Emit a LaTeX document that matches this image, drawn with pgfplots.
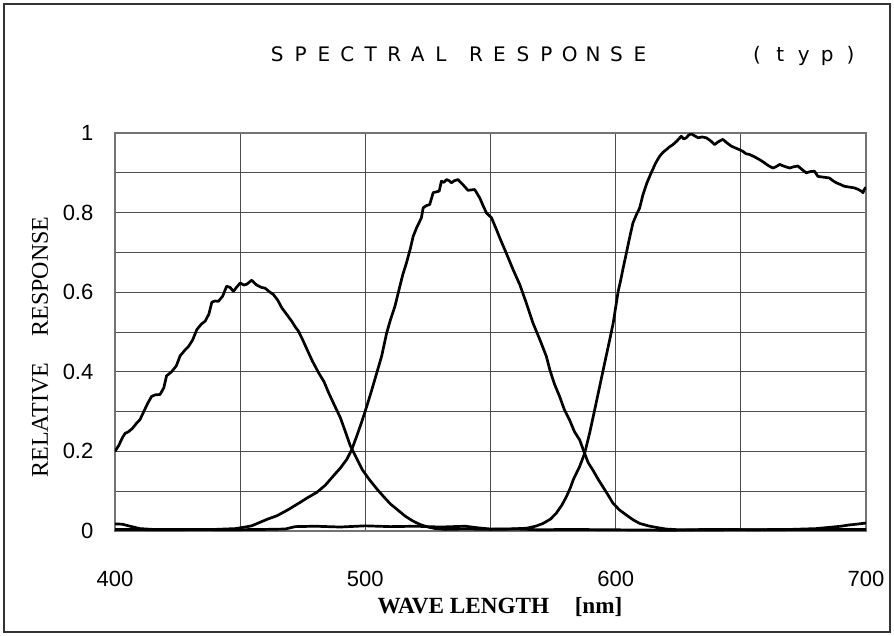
\documentclass[border=0pt]{standalone}
\usepackage{pgfplots}
\pgfplotsset{compat=1.18}
\usepackage{fontspec}
\setmainfont{Liberation Serif}
\newfontfamily\arial{Liberation Sans}
\newfontfamily\titlefont{DejaVu Sans}
\newcommand\G[1]{\makebox[5.85pt][c]{#1}}
\newcommand\Sp{\hspace*{5.85pt}}
\begin{document}
\begin{tikzpicture}
\useasboundingbox (0,0) rectangle (447pt,-318pt);
\draw[line width=0.65pt, black!80] (2pt,-2pt) rectangle (445pt,-316pt);
\node[font=\titlefont\fontsize{10}{12}\selectfont, anchor=west, inner sep=0pt] at (135.5pt,-28pt)
 {\G{S}\Sp\G{P}\Sp\G{E}\Sp\G{C}\Sp\G{T}\Sp\G{R}\Sp\G{A}\Sp\G{L}\Sp\Sp\G{R}\Sp\G{E}\Sp\G{S}\Sp\G{P}\Sp\G{O}\Sp\G{N}\Sp\G{S}\Sp\G{E}\Sp\Sp\Sp\Sp\Sp\Sp\Sp\Sp\Sp\G{(}\Sp\G{t}\Sp\G{y}\Sp\G{p}\Sp\G{)}};
\node[font=\fontsize{12}{14}\selectfont, rotate=90] at (20pt,-173.5pt) {RELATIVE\hspace{1.1em}RESPONSE};
\node[font=\bfseries\fontsize{11.6}{13}\selectfont] at (250pt,-303.5pt) {WAVE LENGTH\hspace{1.1em}[nm]};
\begin{axis}[
 at={(57.5pt,-265.5pt)}, anchor=south west,
 scale only axis, width=375.5pt, height=199pt,
 xmin=400, xmax=700, ymin=0, ymax=1,
 xtick={400,500,600,700}, minor xtick={450,550,650},
 ytick={0,0.2,0.4,0.6,0.8,1}, minor ytick={0.1,0.3,0.5,0.7,0.9},
 yticklabels={0,0.2,0.4,0.6,0.8,1},
 xticklabels={400,500,600,700},
 grid=both,
 major grid style={black!70, line width=0.5pt},
 minor grid style={black!70, line width=0.5pt},
 axis line style={black!55, line width=0.6pt},
 major tick length=0pt, minor tick length=0pt,
 tick label style={font=\arial\fontsize{11}{13}\selectfont},
 yticklabel style={xshift=-7.3pt},
 xticklabel style={yshift=-16.5pt},
]
% blue
\addplot[black, line width=1.35pt, line join=round] coordinates {
(400,0.200)(401.5,0.215)(403,0.235)(404,0.245)(405.5,0.25)(407,0.258)(408.5,0.27)(410,0.28)(411.5,0.30)(413,0.32)(414.6,0.338)(416,0.342)(418,0.343)(419.5,0.36)(420.6,0.39)(422.6,0.40)(424.5,0.415)(426,0.44)(428,0.455)(429.4,0.464)(431,0.48)(432.7,0.506)(434.5,0.52)(436,0.527)(437.5,0.545)(438.7,0.575)(440,0.578)(441.3,0.577)(443,0.59)(444.6,0.615)(446,0.612)(447.3,0.602)(448.5,0.612)(450,0.623)(451.5,0.618)(452.6,0.62)(454.6,0.63)(456.6,0.618)(458.5,0.612)(460,0.61)(461.5,0.602)(463.3,0.594)(465,0.58)(466.7,0.56)(468.5,0.545)(470.6,0.527)(472,0.513)(473.3,0.502)(475,0.48)(477.3,0.448)(479,0.425)(481.3,0.398)(483.5,0.375)(485.3,0.348)(487.5,0.318)(490,0.285)(492,0.25)(494,0.214)(496.5,0.183)(498.7,0.155)(501.5,0.13)(504.7,0.105)(507.5,0.085)(510,0.068)(513.3,0.051)(516,0.037)(519,0.025)(522,0.016)(525,0.010)(528,0.006)(532,0.004)(540,0.005)(550,0.004)(560,0.005)(570,0.003)(580,0.004)(600,0.003)(620,0.002)(650,0.003)(670,0.004)(680,0.006)(685,0.009)(690,0.012)(693,0.015)(696,0.017)(700,0.02)
};
% green
\addplot[black, line width=1.35pt, line join=round] coordinates {
(400,0.004)(420,0.003)(440,0.004)(448,0.006)(452,0.010)(454.6,0.013)(458,0.022)(461,0.03)(464.6,0.038)(469,0.053)(474,0.072)(477,0.084)(480.6,0.097)(484,0.115)(487.3,0.139)(490,0.158)(492.6,0.18)(494.6,0.205)(496.6,0.239)(498.6,0.275)(500.6,0.314)(502.6,0.355)(504.6,0.398)(506.5,0.439)(508.5,0.497)(510,0.53)(511.8,0.564)(513.8,0.615)(515,0.645)(516.4,0.673)(518,0.71)(519.1,0.74)(520.5,0.762)(522.4,0.787)(523.1,0.812)(524.5,0.818)(525.7,0.82)(527.1,0.85)(529.5,0.854)(530.4,0.879)(531.4,0.876)(532.4,0.883)(533.5,0.88)(534.4,0.875)(535.5,0.88)(537,0.883)(539,0.87)(541,0.856)(543.7,0.858)(545.7,0.837)(547,0.818)(548.4,0.799)(550.4,0.787)(552.4,0.757)(554,0.732)(555.7,0.707)(557.5,0.68)(559,0.657)(561.7,0.619)(564.3,0.573)(567,0.522)(569.7,0.481)(572.3,0.439)(573.7,0.405)(575.5,0.37)(577.6,0.338)(579.5,0.305)(581.6,0.279)(583.5,0.25)(585.6,0.229)(587.6,0.195)(589,0.172)(590.9,0.153)(593,0.13)(594.9,0.111)(597,0.09)(598.9,0.07)(601.5,0.053)(604.3,0.04)(607,0.028)(609.6,0.019)(613,0.013)(616.2,0.009)(620,0.005)(625.5,0.003)(640,0.004)(660,0.003)(680,0.004)(700,0.004)
};
% red
\addplot[black, line width=1.35pt, line join=round] coordinates {
(400,0.018)(403,0.017)(406,0.012)(410,0.006)(415,0.004)(430,0.004)(445,0.003)(460,0.004)(468,0.005)(472,0.011)(480,0.012)(490,0.010)(500,0.013)(510,0.011)(520,0.012)(530,0.010)(540,0.012)(545,0.008)(550,0.005)(557,0.005)(561,0.006)(564.4,0.007)(568,0.012)(571,0.019)(574,0.03)(576.3,0.045)(578.5,0.065)(580.3,0.086)(582,0.11)(583,0.128)(585.6,0.162)(587.6,0.195)(589.6,0.246)(591.6,0.304)(593.6,0.363)(595.6,0.422)(597.6,0.48)(599,0.522)(601,0.602)(602,0.63)(603,0.661)(604.3,0.699)(605.5,0.735)(606.9,0.774)(608.3,0.795)(609.6,0.812)(610.9,0.845)(612.5,0.875)(614.2,0.9)(616,0.925)(617.6,0.942)(619,0.952)(620.2,0.958)(621.5,0.965)(622.9,0.971)(624.5,0.98)(626.2,0.992)(627.2,0.985)(628.2,0.988)(629.2,0.995)(630.2,0.998)(631.5,0.993)(632.9,0.988)(634.5,0.99)(636.2,0.988)(638,0.98)(639.5,0.971)(641,0.978)(642.8,0.984)(644.5,0.975)(646.2,0.967)(648,0.962)(649.5,0.958)(650.8,0.954)(652,0.948)(653.5,0.946)(655.5,0.94)(657.5,0.933)(659,0.927)(661,0.918)(662.8,0.912)(664,0.915)(665.5,0.921)(667.5,0.916)(669.5,0.912)(671,0.915)(672.8,0.917)(674.5,0.908)(676.1,0.9)(677.8,0.903)(679.4,0.904)(680.8,0.891)(683,0.889)(685.4,0.887)(686.8,0.88)(688.1,0.875)(690,0.87)(691.4,0.866)(693.5,0.864)(695.4,0.862)(697,0.858)(698.1,0.854)(698.8,0.85)(699.3,0.858)(700,0.864)
};
\end{axis}
\end{tikzpicture}
\end{document}
